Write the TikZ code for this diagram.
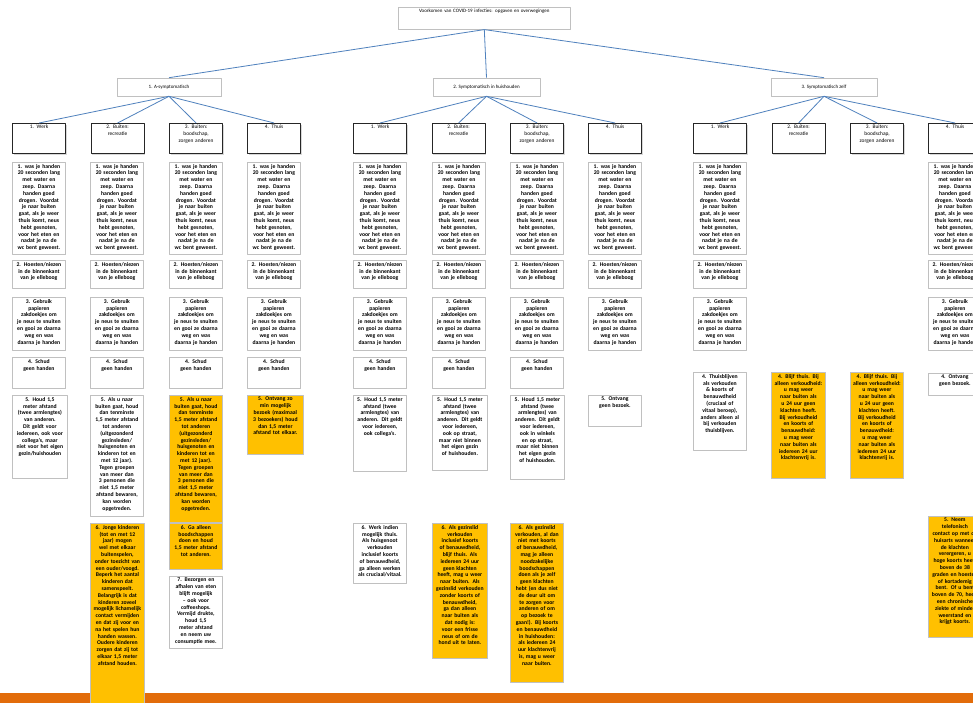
\documentclass[tikz,border=0pt]{standalone}
\usepackage{fontspec}
\setmainfont{Carlito}
\usetikzlibrary{shadows}
\definecolor{linkblue}{RGB}{79,129,189}
\definecolor{cellgray}{RGB}{192,192,192}
\definecolor{gold}{RGB}{255,192,0}
\definecolor{band}{RGB}{226,108,10}
\hyphenpenalty=10000
\exhyphenpenalty=10000

\begin{document}
\begin{tikzpicture}[x=1pt,y=-1pt,line join=round,
  link/.style={draw=linkblue,line width=0.8pt},
  cell/.style={draw=cellgray,line width=0.8pt,fill=white,anchor=north west,minimum width=53pt,inner sep=0pt,
    drop shadow={shadow xshift=1pt,shadow yshift=-1pt,opacity=0.3}},
  warn/.style={cell,fill=gold},
  cat/.style={cell,draw=black!85,line width=1.2pt,minimum height=30pt},
  txt/.style={anchor=north,text width=48pt,align=center,inner sep=2pt,font=\fontsize{5.7}{6.8}\selectfont\bfseries},
  cattxt/.style={txt,text width=44pt,font=\fontsize{5.4}{6.6}\selectfont},
  head/.style={draw=cellgray,line width=0.6pt,fill=white,inner sep=0pt,font=\fontsize{5}{6}\selectfont,
    drop shadow={shadow xshift=1pt,shadow yshift=-1pt,opacity=0.3}}]
\useasboundingbox (0,0) rectangle (973,703);
\fill[white] (0,0) rectangle (973,703);
\fill[band] (0,693) rectangle (973,703);

% top and the three situations
\node[head,anchor=north west,minimum width=172pt,minimum height=22pt,
  label={[txt,text width=168pt,font=\fontsize{5}{6}\selectfont]north:{Voorkomen van COVID-19 infecties: opgaven en overwegingen}}] (title) at (398,7) {};
\node[head,minimum width=104pt,minimum height=18pt] (asym) at (169,87) {1. A-symptomatisch};
\node[head,minimum width=107pt,minimum height=18pt] (hh) at (486.5,87) {2. Symptomatisch in huishouden};
\node[head,minimum width=106pt,minimum height=18pt] (zelf) at (824,87) {3. Symptomatisch zelf};
\foreach \g in {asym,hh,zelf} \draw[link] (title.south) -- (\g.north);

% the four places under each situation
\foreach \g/\gx in {asym/12,hh/353,zelf/693} {
  \node[cat,label={[cattxt]north:{1. Werk}}] (\g-werk) at (\gx,123) {};
  \node[cat,label={[cattxt]north:{2. Buiten: recreatie}}] (\g-rec) at (\gx+78.5,123) {};
  \node[cat,label={[cattxt]north:{3. Buiten: boodschap, zorgen anderen}}] (\g-shop) at (\gx+157,123) {};
  \node[cat,label={[cattxt]north:{4. Thuis}}] (\g-thuis) at (\gx+235,123) {};
  \foreach \c in {werk,rec,shop,thuis} \draw[link] (\g.south) -- (\g-\c.north);
}

% rules that hold everywhere
\foreach \x in {12,90,169,247,353,432,510,588,693,928}
  \node[cell,minimum height=92pt,label={[txt]north:{1. was je handen 20 seconden lang met water en zeep. Daarna handen goed drogen. Voordat je naar buiten gaat, als je weer thuis komt, neus hebt gesnoten, voor het eten en nadat je na de wc bent geweest.}}] (was\x) at (\x,162) {};
\foreach \x in {12,90,169,247,353,432,510,588,693,928}
  \node[cell,minimum height=28pt,label={[txt]north:{2. Hoesten/niezen in de binnenkant van je elleboog}}] (hoest\x) at (\x,260) {};
\foreach \x in {12,90,169,247,353,432,510,588,693,928}
  \node[cell,minimum height=53pt,label={[txt]north:{3. Gebruik papieren zakdoekjes om je neus te snuiten en gooi ze daarna weg en was daarna je handen}}] (zakdoek\x) at (\x,297) {};
\foreach \x in {12,90,169,247,353,432,510}
  \node[cell,minimum height=31pt,label={[txt]north:{4. Schud geen handen}}] (hand\x) at (\x,357) {};

% 1. a-symptomatisch
\node[cell,minimum width=55pt,minimum height=83pt,label={[txt]north:{5. Houd 1,5 meter afstand (twee armlengtes) van anderen. Dit geldt voor iedereen, ook voor collega's, maar niet voor het eigen gezin/huishouden}}] (asym-werk5) at (12,395) {};
\node[cell,minimum height=121pt,label={[txt]north:{5. Als u naar buiten gaat, houd dan tenminste 1,5 meter afstand tot anderen (uitgezonderd gezinsleden/\allowbreak huisgenoten en kinderen tot en met 12 jaar). Tegen groepen van meer dan 3 personen die niet 1,5 meter afstand bewaren, kan worden opgetreden.}}] (asym-rec5) at (90,395) {};
\node[warn,minimum width=54pt,minimum height=190pt,label={[txt]north:{6. Jonge kinderen (tot en met 12 jaar) mogen wel met elkaar buitenspelen, onder toezicht van een ouder/voogd. Beperk het aantal kinderen dat samenspeelt. Belangrijk is dat kinderen zoveel mogelijk lichamelijk contact vermijden en dat zij voor en na het spelen hun handen wassen. Oudere kinderen zorgen dat zij tot elkaar 1,5 meter afstand houden.}}] (asym-rec6) at (90,523) {};
\node[warn,minimum height=127pt,label={[txt]north:{5. Als u naar buiten gaat, houd dan tenminste 1,5 meter afstand tot anderen (uitgezonderd gezinsleden/\allowbreak huisgenoten en kinderen tot en met 12 jaar). Tegen groepen van meer dan 3 personen die niet 1,5 meter afstand bewaren, kan worden opgetreden.}}] (asym-shop5) at (169,395) {};
\node[warn,minimum height=46pt,label={[txt]north:{6. Ga alleen boodschappen doen en houd 1,5 meter afstand tot anderen.}}] (asym-shop6) at (169,523) {};
\node[cell,minimum height=72pt,label={[txt]north:{7. Bezorgen en afhalen van eten blijft mogelijk -- ook voor coffeeshops. Vermijd drukte, houd 1,5 meter afstand en neem uw consumptie mee.}}] (asym-shop7) at (169,576) {};
\node[warn,minimum width=56pt,minimum height=59pt,label={[txt]north:{5. Ontvang zo min mogelijk bezoek (maximaal 3 bezoekers) houd dan 1,5 meter afstand tot elkaar.}}] (asym-thuis5) at (247,395) {};

% 2. symptomatisch in huishouden
\node[cell,minimum height=76pt,label={[txt]north:{5. Houd 1,5 meter afstand (twee armlengtes) van anderen. Dit geldt voor iedereen, ook collega's.}}] (hh-werk5) at (353,395) {};
\node[cell,minimum width=55pt,minimum height=75pt,label={[txt]north:{5. Houd 1,5 meter afstand (twee armlengtes) van anderen. Dit geldt voor iedereen, ook op straat, maar niet binnen het eigen gezin of huishouden.}}] (hh-rec5) at (432,395) {};
\node[cell,minimum width=54pt,minimum height=84pt,label={[txt]north:{5. Houd 1,5 meter afstand (twee armlengtes) van anderen. Dit geldt voor iedereen, ook in winkels en op straat, maar niet binnen het eigen gezin of huishouden.}}] (hh-shop5) at (510,395) {};
\node[cell,minimum height=31pt,label={[txt]north:{5. Ontvang geen bezoek.}}] (hh-thuis5) at (588,395) {};
\node[cell,minimum height=60pt,label={[txt]north:{6. Werk indien mogelijk thuis. Als huisgenoot verkouden inclusief koorts of benauwdheid, ga alleen werken als cruciaal/vitaal.}}] (hh-werk6) at (353,523) {};
\node[warn,minimum width=55pt,minimum height=135pt,label={[txt]north:{6. Als gezinslid verkouden inclusief koorts of benauwdheid, blijf thuis. Als iedereen 24 uur geen klachten heeft, mag u weer naar buiten. Als gezinslid verkouden zonder koorts of benauwdheid, ga dan alleen naar buiten als dat nodig is: voor een frisse neus of om de hond uit te laten.}}] (hh-rec6) at (432,523) {};
\node[warn,minimum height=159pt,label={[txt]north:{6. Als gezinslid verkouden, al dan niet met koorts of benauwdheid, mag je alleen noodzakelijke boodschappen doen als je zelf geen klachten hebt (en dus niet de deur uit om te zorgen voor anderen of om op bezoek te gaan!). Bij koorts en benauwdheid in huishouden: als iedereen 24 uur klachtenvrij is, mag u weer naar buiten.}}] (hh-shop6) at (510,523) {};

% 3. symptomatisch zelf
\node[cell,minimum height=78pt,label={[txt]north:{4. Thuisblijven als verkouden \& koorts of benauwdheid (cruciaal of vitaal beroep), anders alleen al bij verkouden thuisblijven.}}] (zelf-werk4) at (693,372) {};
\node[warn,minimum width=54pt,minimum height=106pt,label={[txt]north:{4. Blijf thuis. Bij alleen verkoudheid: u mag weer naar buiten als u 24 uur geen klachten heeft. Bij verkoudheid en koorts of benauwdheid: u mag weer naar buiten als iedereen 24 uur klachtenvrij is.}}] (zelf-rec4) at (771,372) {};
\node[warn,minimum height=106pt,label={[txt]north:{4. Blijf thuis. Bij alleen verkoudheid: u mag weer naar buiten als u 24 uur geen klachten heeft. Bij verkoudheid en koorts of benauwdheid: u mag weer naar buiten als iedereen 24 uur klachtenvrij is.}}] (zelf-shop4) at (850,372) {};
\node[cell,minimum height=22pt,label={[txt]north:{4. Ontvang geen bezoek.}}] (zelf-thuis4) at (928,373) {};
\node[warn,minimum height=121pt,label={[txt]north:{5. Neem telefonisch contact op met de huisarts wanneer de klachten verergeren, u hoge koorts heeft boven de 38 graden en hoesten of kortademig bent. Of u bent boven de 70, heeft een chronische ziekte of minder weerstand en krijgt koorts.}}] (zelf-thuis5) at (928,516) {};
\end{tikzpicture}
\end{document}
